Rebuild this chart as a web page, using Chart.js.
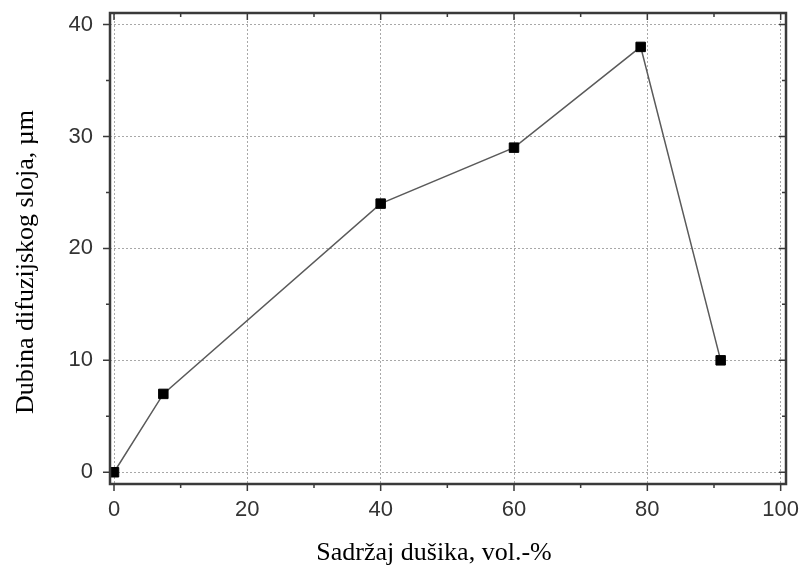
<!DOCTYPE html>
<html>
<head>
<meta charset="utf-8">
<script src="https://cdn.jsdelivr.net/npm/chart.js@4"></script>
<style>
  html, body { margin: 0; padding: 0; background: #fff; }
  #wrap { width: 802px; height: 565px; position: relative; }
</style>
</head>
<body>
<div id="wrap"><canvas id="c"></canvas></div>
<script>
// data
const nitrogen = [0, 7.4, 40, 60, 79, 91];
const depth = [0, 7, 24, 29, 38, 10];
const xTicks = [0, 20, 40, 60, 80, 100];
const yTicks = [0, 10, 20, 30, 40];
const xMinor = [10, 30, 50, 70, 90];
const yMinor = [5, 15, 25, 35];
const xTitle = 'Sadržaj dušika, vol.-%';
const yTitle = 'Dubina difuzijskog sloja, µm';

// frame, tick marks and axis titles
const framePlugin = {
    id: 'frame',
    afterDraw(chart) {
        const ctx = chart.ctx;
        const a = chart.chartArea;
        const xs = chart.scales.x, ys = chart.scales.y;
        ctx.save();
        ctx.strokeStyle = '#3a3a3a';
        ctx.lineWidth = 1.5;
        ctx.beginPath();
        xTicks.forEach(v => {
            const px = xs.getPixelForValue(v);
            ctx.moveTo(px, a.bottom); ctx.lineTo(px, a.bottom + 7);
            ctx.moveTo(px, a.top); ctx.lineTo(px, a.top + 7);
        });
        xMinor.forEach(v => {
            const px = xs.getPixelForValue(v);
            ctx.moveTo(px, a.bottom); ctx.lineTo(px, a.bottom + 4);
            ctx.moveTo(px, a.top); ctx.lineTo(px, a.top + 4);
        });
        yTicks.forEach(v => {
            const py = ys.getPixelForValue(v);
            ctx.moveTo(a.left, py); ctx.lineTo(a.left - 7, py);
            ctx.moveTo(a.right, py); ctx.lineTo(a.right - 7, py);
        });
        yMinor.forEach(v => {
            const py = ys.getPixelForValue(v);
            ctx.moveTo(a.left, py); ctx.lineTo(a.left - 4, py);
            ctx.moveTo(a.right, py); ctx.lineTo(a.right - 4, py);
        });
        ctx.stroke();

        ctx.lineWidth = 2.5;
        ctx.strokeRect(a.left, a.top, a.right - a.left, a.bottom - a.top);

        ctx.fillStyle = '#000';
        ctx.font = '26px "Liberation Serif", "Times New Roman", serif';
        ctx.textAlign = 'center';
        ctx.textBaseline = 'alphabetic';
        ctx.fillText(xTitle, 434, 560);
        ctx.translate(33, 262);
        ctx.rotate(-Math.PI / 2);
        ctx.fillText(yTitle, 0, 0);
        ctx.restore();
    }
};

const tickFont = { family: '"Liberation Sans", Arial, sans-serif', size: 22 };

new Chart(document.getElementById('c'), {
    type: 'scatter',
    data: {
        datasets: [{
            data: nitrogen.map((x, i) => ({ x: x, y: depth[i] })),
            showLine: true,
            borderColor: '#5a5a5a',
            borderWidth: 1.5,
            pointStyle: 'rect',
            pointRadius: 6.7,
            pointBackgroundColor: '#000',
            pointBorderColor: '#000',
            pointBorderWidth: 1,
            pointHoverRadius: 6.7
        }]
    },
    options: {
        responsive: true,
        maintainAspectRatio: false,
        animation: false,
        events: [],
        layout: { padding: { left: 0, top: 13, right: 16, bottom: 0 } },
        plugins: { legend: { display: false }, tooltip: { enabled: false } },
        scales: {
            x: {
                type: 'linear',
                min: -0.6,
                max: 100.8,
                afterBuildTicks(scale) { scale.ticks = xTicks.map(v => ({ value: v })); },
                afterFit(scale) { scale.height = 81; scale.paddingLeft = 0; scale.paddingRight = 0; },
                grid: { color: '#a8a8a8', lineWidth: 1, drawTicks: false },
                border: { display: false, dash: [2, 2] },
                ticks: { color: '#333', font: tickFont, padding: 13, maxRotation: 0 }
            },
            y: {
                min: -1.05,
                max: 41.03,
                afterBuildTicks(scale) { scale.ticks = yTicks.map(v => ({ value: v })); },
                afterFit(scale) { scale.width = 110; scale.paddingTop = 0; scale.paddingBottom = 0; },
                grid: { color: '#a8a8a8', lineWidth: 1, drawTicks: false },
                border: { display: false, dash: [2, 2] },
                ticks: { color: '#333', font: tickFont, padding: 17 }
            }
        }
    },
    plugins: [framePlugin]
});
</script>
</body>
</html>
